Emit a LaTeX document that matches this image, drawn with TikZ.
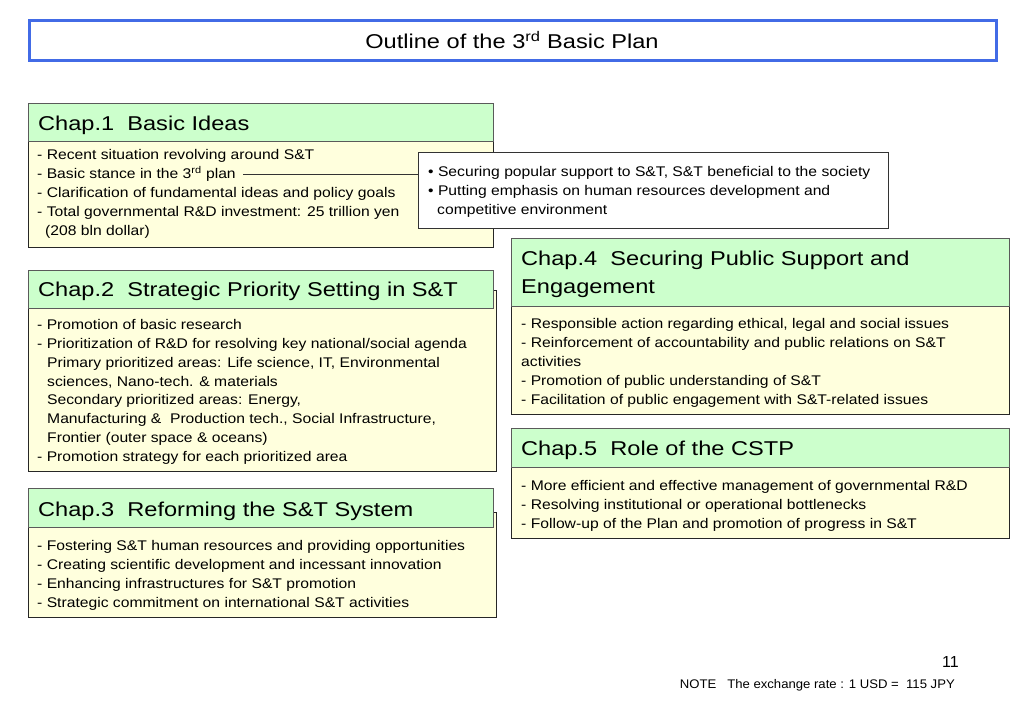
\documentclass[tikz,border=0pt]{standalone}
\usepackage{fontspec}
\setmainfont{Liberation Sans}
\newfontfamily\hdrfont{Liberation Sans}[FakeStretch=1.18]
\newfontfamily\bodyfont{Liberation Sans}[FakeStretch=1.12]
\newfontfamily\notefont{Liberation Sans}[FakeStretch=1.05]
\definecolor{hdrgreen}{RGB}{204,255,204}
\definecolor{bodyyellow}{RGB}{255,255,221}
\definecolor{titleblue}{RGB}{66,107,230}
\definecolor{hdrline}{RGB}{90,90,90}
\begin{document}
\begin{tikzpicture}[x=1pt,y=-1pt,
  hdrbox/.style={draw=hdrline, line width=0.8pt, fill=hdrgreen, anchor=north west, inner sep=0pt},
  bodybox/.style={draw=black!85, line width=1.4pt, fill=bodyyellow, anchor=north west, inner sep=0pt},
  hdrtext/.style={anchor=base west, inner sep=0pt, font=\hdrfont\fontsize{20}{28}\selectfont, align=left},
  bodytext/.style={anchor=north west, inner sep=0pt, font=\bodyfont\fontsize{14}{18.9}\selectfont, align=left},
  notebox/.style={draw=black!80, line width=0.8pt, fill=white, anchor=north west, inner sep=0pt},
]
\useasboundingbox (0,0) rectangle (1023,708);
\fill[white] (0,0) rectangle (1023,708);

% title
\node[draw=titleblue, line width=2.6pt, anchor=north west, inner sep=0pt,
      minimum width=967pt, minimum height=40pt] (titlebox) at (28,19) {};
\node[inner sep=0pt, font=\hdrfont\fontsize{20}{24}\selectfont] (title) at (512,40) {Outline of the 3\textsuperscript{rd} Basic Plan};

% Chap 1
\node[bodybox, minimum width=465pt, minimum height=106pt] (b1) at (28,141) {};
\node[hdrbox, minimum width=465pt, minimum height=38pt] (h1) at (28,103) {};
\node[hdrtext] (h1t) at (38,131) {Chap.1\ \ Basic Ideas};
\node[bodytext, font=\bodyfont\fontsize{14}{19}\selectfont] (b1t) at (37,149.5) {- Recent situation revolving around S\&T\\
- Basic stance in the 3\textsuperscript{rd} plan\\
- Clarification of fundamental ideas and policy goals\\
- Total governmental R\&D investment: 25 trillion yen\\
\hspace*{8pt}(208 bln dollar)};
\coordinate (c1) at (243,174);

% note box
\node[notebox, minimum width=470pt, minimum height=76pt] (tb) at (418,152) {};
\node[bodytext] (tbt) at (428,166) {• Securing popular support to S\&T, S\&T beneficial to the society\\
• Putting emphasis on human resources development and\\
\hspace*{9pt}competitive environment};
\draw[black!80, line width=0.8pt] (c1) -- (c1 -| tb.west);

% Chap 2
\node[bodybox, minimum width=468pt, minimum height=181pt] (b2) at (28,290) {};
\node[hdrbox, minimum width=465pt, minimum height=38pt] (h2) at (28,270) {};
\node[hdrtext] (h2t) at (38,297) {Chap.2\ \ Strategic Priority Setting in S\&T};
\node[bodytext] (b2t) at (37,319) {- Promotion of basic research\\
- Prioritization of R\&D for resolving key national/social agenda\\
\hspace*{10pt}Primary prioritized areas: Life science, IT, Environmental\\
\hspace*{10pt}sciences, Nano-tech. \& materials\\
\hspace*{10pt}Secondary prioritized areas: Energy,\\
\hspace*{10pt}Manufacturing \&\ \ Production tech., Social Infrastructure,\\
\hspace*{10pt}Frontier (outer space \& oceans)\\
- Promotion strategy for each prioritized area};

% Chap 3
\node[bodybox, minimum width=468pt, minimum height=105pt] (b3) at (28,512) {};
\node[hdrbox, minimum width=465pt, minimum height=39pt] (h3) at (28,488) {};
\node[hdrtext] (h3t) at (38,516) {Chap.3\ \ Reforming the S\&T System};
\node[bodytext] (b3t) at (37,540.5) {- Fostering S\&T human resources and providing opportunities\\
- Creating scientific development and incessant innovation\\
- Enhancing infrastructures for S\&T promotion\\
- Strategic commitment on international S\&T activities};

% Chap 4
\node[bodybox, minimum width=498pt, minimum height=108pt] (b4) at (511,306) {};
\node[hdrbox, minimum width=498pt, minimum height=68pt] (h4) at (511,238) {};
\node[hdrtext] (h4t) at (521,294) {Chap.4\ \ Securing Public Support and\\Engagement};
\node[bodytext] (b4t) at (521,318.5) {- Responsible action regarding ethical, legal and social issues\\
- Reinforcement of accountability and public relations on S\&T\\
activities\\
- Promotion of public understanding of S\&T\\
- Facilitation of public engagement with S\&T-related issues};

% Chap 5
\node[bodybox, minimum width=498pt, minimum height=71pt] (b5) at (511,467) {};
\node[hdrbox, minimum width=498pt, minimum height=39pt] (h5) at (511,428) {};
\node[hdrtext] (h5t) at (521,456) {Chap.5\ \ Role of the CSTP};
\node[bodytext] (b5t) at (521,480.5) {- More efficient and effective management of governmental R\&D\\
- Resolving institutional or operational bottlenecks\\
- Follow-up of the Plan and promotion of progress in S\&T};

% footer
\node[anchor=base east, inner sep=0pt, font=\fontsize{16}{18}\selectfont] (pagenum) at (959,667) {11};
\node[anchor=base east, inner sep=0pt, font=\notefont\fontsize{12.5}{14}\selectfont] (note) at (955,688) {NOTE\ \ \ The exchange rate : 1 USD =\ \ 115 JPY};
\end{tikzpicture}
\end{document}
